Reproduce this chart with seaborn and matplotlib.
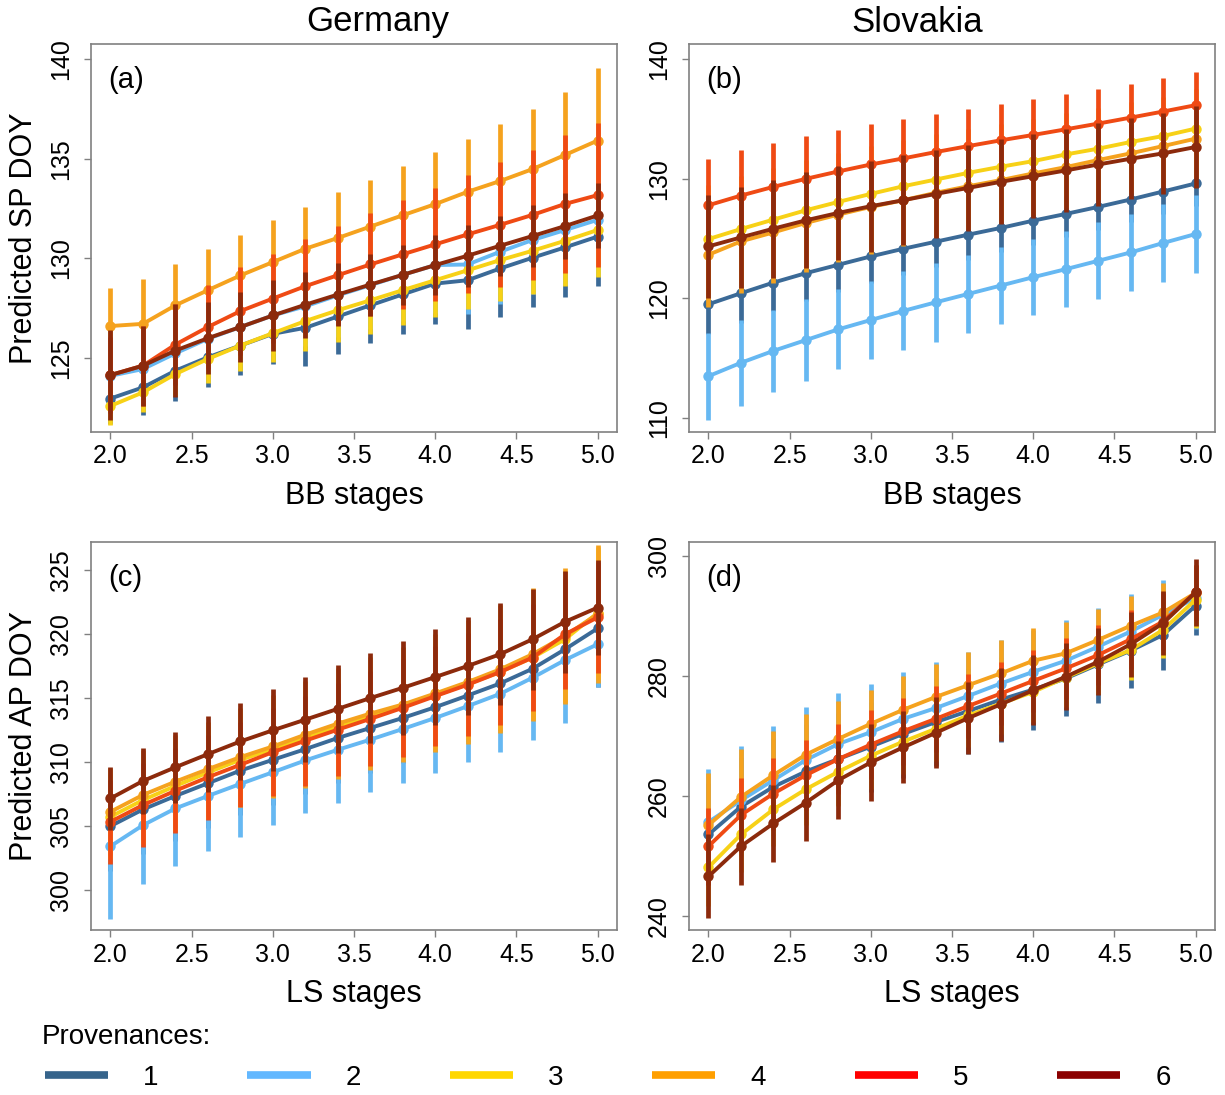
import numpy as np
import pandas as pd
import seaborn as sns
import matplotlib.pyplot as plt
from matplotlib.lines import Line2D

STAGES = [2.0, 2.2, 2.4, 2.6, 2.8, 3.0, 3.2, 3.4, 3.6, 3.8, 4.0, 4.2, 4.4, 4.6, 4.8, 5.0]
PROVENANCES = ["1", "2", "3", "4", "5", "6"]
LINE_COLORS = ["#3B6A97", "#66B8F2", "#F7D117", "#F5A21E", "#EF4A14", "#8C2A0C"]
LEGEND_COLORS = ["#36648B", "#63B8FF", "#FFD700", "#FF9F00", "#FF0000", "#8B0000"]

# (a) Germany, SP DOY vs BB stages
A_MEAN = [
    [122.96, 123.52, 124.36, 125.03, 125.62, 126.21, 126.51, 127.08, 127.64, 128.19, 128.73, 128.90, 129.49, 130.03, 130.55, 131.09],
    [124.10, 124.44, 125.23, 125.96, 126.55, 127.13, 127.59, 128.14, 128.65, 129.17, 129.66, 129.69, 130.33, 130.92, 131.42, 131.93],
    [122.59, 123.27, 124.19, 124.95, 125.62, 126.24, 126.85, 127.39, 127.89, 128.40, 128.90, 129.40, 129.91, 130.38, 130.88, 131.42],
    [126.60, 126.71, 127.64, 128.40, 129.14, 129.81, 130.48, 131.02, 131.59, 132.16, 132.72, 133.34, 133.88, 134.48, 135.19, 135.91],
    [124.14, 124.61, 125.67, 126.55, 127.35, 127.98, 128.60, 129.15, 129.69, 130.20, 130.70, 131.20, 131.68, 132.18, 132.73, 133.17],
    [124.14, 124.61, 125.37, 125.99, 126.55, 127.13, 127.67, 128.18, 128.68, 129.17, 129.66, 130.13, 130.63, 131.12, 131.62, 132.15],
]
A_ERR = [
    [1.30, 1.40, 1.50, 1.50, 1.50, 1.50, 1.90, 1.90, 1.90, 2.00, 2.05, 2.45, 2.45, 2.45, 2.50, 2.50],
    [1.50, 1.50, 1.60, 1.70, 1.80, 1.90, 2.00, 2.10, 2.20, 2.30, 2.40, 2.50, 2.60, 2.70, 2.75, 2.80],
    [0.95, 1.00, 1.10, 1.20, 1.30, 1.45, 1.50, 1.60, 1.70, 1.75, 1.85, 1.95, 2.05, 2.15, 2.25, 2.35],
    [1.92, 2.24, 2.07, 2.09, 2.05, 2.12, 2.12, 2.29, 2.35, 2.46, 2.61, 2.67, 2.86, 3.04, 3.18, 3.67],
    [1.90, 2.00, 2.05, 2.10, 2.20, 2.25, 2.35, 2.49, 2.61, 2.74, 2.83, 2.96, 3.14, 3.28, 3.48, 3.63],
    [2.24, 2.00, 2.35, 1.80, 1.77, 1.77, 1.65, 1.56, 1.56, 1.50, 1.50, 1.55, 1.50, 1.56, 1.65, 1.63],
]

# (b) Slovakia, SP DOY vs BB stages
B_MEAN = [
    [119.49, 120.41, 121.30, 122.09, 122.79, 123.49, 124.13, 124.72, 125.31, 125.87, 126.48, 127.04, 127.63, 128.25, 128.92, 129.59],
    [113.47, 114.59, 115.59, 116.49, 117.39, 118.17, 118.93, 119.65, 120.35, 121.05, 121.75, 122.42, 123.12, 123.82, 124.61, 125.36],
    [124.94, 125.78, 126.57, 127.35, 128.05, 128.72, 129.36, 129.92, 130.48, 130.99, 131.46, 132.02, 132.50, 133.06, 133.56, 134.18],
    [123.63, 124.75, 125.50, 126.29, 126.99, 127.63, 128.19, 128.81, 129.36, 129.87, 130.43, 130.96, 131.55, 132.11, 132.72, 133.34],
    [127.77, 128.58, 129.31, 129.98, 130.60, 131.18, 131.69, 132.22, 132.72, 133.20, 133.65, 134.12, 134.60, 135.10, 135.61, 136.14],
    [124.33, 125.08, 125.81, 126.51, 127.13, 127.69, 128.19, 128.72, 129.22, 129.73, 130.20, 130.68, 131.18, 131.66, 132.11, 132.64],
]
B_ERR = [
    [2.50, 2.45, 2.40, 2.35, 2.30, 2.25, 2.20, 2.15, 2.10, 2.05, 2.00, 1.95, 1.90, 1.90, 1.90, 1.90],
    [3.64, 3.60, 3.44, 3.40, 3.35, 3.30, 3.30, 3.28, 3.25, 3.22, 3.20, 3.20, 3.22, 3.25, 3.27, 3.27],
    [4.50, 4.40, 4.30, 4.20, 4.10, 4.00, 3.90, 3.80, 3.70, 3.60, 3.50, 3.45, 3.40, 3.35, 3.30, 3.30],
    [4.40, 4.30, 4.20, 4.10, 4.00, 3.90, 3.80, 3.70, 3.60, 3.50, 3.45, 3.40, 3.35, 3.30, 3.30, 3.30],
    [3.89, 3.78, 3.69, 3.58, 3.44, 3.36, 3.27, 3.16, 3.08, 3.02, 2.99, 2.94, 2.88, 2.80, 2.77, 2.74],
    [4.30, 4.20, 4.10, 4.00, 3.90, 3.80, 3.75, 3.70, 3.60, 3.55, 3.50, 3.45, 3.45, 3.40, 3.40, 3.40],
]

# (c) Germany, AP DOY vs LS stages
C_MEAN = [
    [305.02, 306.32, 307.37, 308.36, 309.35, 310.19, 311.02, 311.89, 312.67, 313.45, 314.29, 315.20, 316.14, 317.29, 318.81, 320.43],
    [303.45, 305.09, 306.40, 307.37, 308.31, 309.22, 310.14, 310.97, 311.76, 312.59, 313.45, 314.37, 315.33, 316.59, 317.97, 319.20],
    [305.75, 307.05, 308.15, 309.20, 310.19, 311.02, 311.89, 312.75, 313.58, 314.37, 315.20, 316.09, 317.03, 318.16, 319.59, 321.63],
    [306.14, 307.45, 308.49, 309.46, 310.40, 311.23, 312.15, 313.01, 313.79, 314.50, 315.36, 316.25, 317.24, 318.42, 319.85, 321.55],
    [305.36, 306.66, 307.78, 308.83, 309.80, 310.79, 311.68, 312.54, 313.38, 314.24, 315.15, 316.04, 317.03, 318.16, 319.98, 321.29],
    [307.18, 308.54, 309.61, 310.63, 311.62, 312.49, 313.32, 314.16, 315.00, 315.80, 316.64, 317.50, 318.42, 319.59, 320.95, 322.05],
]
C_ERR = [
    [3.50, 3.50, 3.50, 3.50, 3.50, 3.50, 3.50, 3.50, 3.50, 3.50, 3.50, 3.60, 3.70, 3.80, 4.00, 4.60],
    [5.67, 4.62, 4.52, 4.28, 4.13, 4.13, 4.13, 4.13, 4.10, 4.18, 4.26, 4.39, 4.55, 4.83, 4.91, 3.30],
    [3.30, 3.40, 3.50, 3.60, 3.65, 3.70, 3.75, 3.80, 3.90, 4.00, 4.10, 4.30, 4.50, 4.80, 4.90, 5.15],
    [3.40, 3.50, 3.60, 3.70, 3.80, 4.00, 4.18, 4.30, 4.40, 4.50, 4.60, 4.80, 5.00, 5.20, 5.30, 5.40],
    [3.27, 3.30, 3.30, 3.30, 3.30, 3.42, 3.50, 3.60, 3.70, 3.80, 3.90, 4.00, 4.10, 4.20, 4.30, 4.30],
    [2.48, 2.56, 2.77, 2.95, 3.00, 3.19, 3.34, 3.42, 3.50, 3.66, 3.74, 3.84, 3.97, 3.92, 3.97, 3.68],
]

# (d) Slovakia, AP DOY vs LS stages
D_MEAN = [
    [253.58, 258.22, 261.52, 264.09, 266.16, 268.23, 270.36, 272.32, 274.16, 276.06, 277.74, 279.59, 281.94, 284.23, 286.86, 291.72],
    [255.65, 259.28, 262.64, 266.00, 268.68, 270.64, 272.87, 274.66, 276.68, 278.75, 280.70, 282.55, 284.90, 287.42, 290.21, 293.01],
    [248.10, 253.58, 257.77, 261.13, 264.04, 266.72, 269.07, 271.20, 273.43, 275.39, 277.35, 279.75, 282.10, 284.34, 287.70, 292.73],
    [255.15, 259.84, 263.48, 266.89, 269.52, 272.04, 274.38, 276.51, 278.47, 280.43, 282.55, 283.78, 286.02, 288.37, 290.60, 293.85],
    [251.62, 256.82, 260.40, 263.48, 266.16, 268.57, 270.81, 272.87, 275.00, 277.07, 279.19, 281.26, 283.50, 286.13, 289.09, 293.96],
    [246.59, 251.62, 255.43, 258.89, 262.64, 265.60, 268.12, 270.53, 272.99, 275.28, 277.63, 279.87, 282.38, 285.29, 288.81, 293.96],
]
D_ERR = [
    [8.50, 8.30, 8.10, 7.90, 7.70, 7.50, 7.40, 7.30, 7.20, 7.10, 6.70, 6.30, 6.40, 6.30, 5.90, 4.90],
    [8.90, 9.00, 9.10, 8.80, 8.50, 8.10, 7.80, 7.60, 7.40, 7.20, 7.00, 6.80, 6.50, 6.20, 5.80, 5.20],
    [6.50, 6.30, 6.10, 5.90, 5.70, 5.50, 5.40, 5.30, 5.20, 5.10, 5.00, 4.90, 5.10, 5.00, 4.75, 4.75],
    [8.60, 8.00, 7.30, 6.80, 6.30, 5.70, 5.60, 5.50, 5.50, 5.50, 5.50, 5.30, 5.20, 5.00, 4.90, 4.60],
    [6.40, 6.20, 6.00, 5.90, 5.80, 5.70, 5.60, 5.50, 5.40, 5.30, 5.20, 5.10, 5.00, 4.90, 4.80, 4.60],
    [6.99, 6.43, 6.43, 6.32, 6.54, 6.43, 6.04, 5.93, 5.98, 6.04, 5.87, 5.59, 5.59, 5.40, 5.30, 5.60],
]

PANELS = [
    ("(a)", A_MEAN, A_ERR, [125, 130, 135, 140], (121.28, 140.76), "BB stages", "Predicted SP DOY"),
    ("(b)", B_MEAN, B_ERR, [110, 120, 130, 140], (108.8, 141.26), "BB stages", None),
    ("(c)", C_MEAN, C_ERR, [300, 305, 310, 315, 320, 325], (296.92, 327.17), "LS stages", "Predicted AP DOY"),
    ("(d)", D_MEAN, D_ERR, [240, 260, 280, 300], (237.65, 302.35), "LS stages", None),
]

W, H = 1225, 1095
AX_RECTS = [
    (91, 44, 526, 388),
    (689, 44, 526, 388),
    (91, 542, 526, 388),
    (689, 542, 526, 388),
]


def to_frame(means, errs):
    rows = []
    for prov, m, e in zip(PROVENANCES, means, errs):
        for x, y, h in zip(STAGES, m, e):
            rows.append((prov, x, y, y - h, y + h))
    return pd.DataFrame(rows, columns=["provenance", "stage", "doy", "lo", "hi"])


def main():
    sns.set_theme(style="white")
    plt.rcParams["font.family"] = ["Liberation Sans", "DejaVu Sans"]
    plt.rcParams["text.color"] = "black"
    plt.rcParams["axes.labelcolor"] = "black"

    fig = plt.figure(figsize=(W / 100, H / 100), dpi=100)
    frame_col = "#808080"

    for (tag, means, errs, yticks, ylim, xlabel, ylabel), (l, t, w, h) in zip(PANELS, AX_RECTS):
        ax = fig.add_axes([l / W, 1 - (t + h) / H, w / W, h / H])
        df = to_frame(means, errs)

        for i, (prov, color) in enumerate(zip(PROVENANCES, LINE_COLORS)):
            sub = df[df["provenance"] == prov]
            ax.vlines(sub["stage"], sub["lo"], sub["hi"], color=color, lw=3.4,
                      capstyle="butt", zorder=2 + 2 * i)
            sns.lineplot(data=sub, x="stage", y="doy", ax=ax, color=color, lw=2.8,
                         marker="o", markersize=7.5, markeredgewidth=0, zorder=3 + 2 * i)

        ax.set_xlim(1.88, 5.12)
        ax.set_ylim(*ylim)
        ax.set_xticks([2.0, 2.5, 3.0, 3.5, 4.0, 4.5, 5.0])
        ax.set_xticklabels([f"{v:.1f}" for v in [2.0, 2.5, 3.0, 3.5, 4.0, 4.5, 5.0]], fontsize=18)
        ax.set_yticks(yticks)
        ax.set_yticklabels([str(v) for v in yticks], fontsize=18, rotation=90, va="center")
        ax.tick_params(axis="both", direction="out", length=5, width=1, color=frame_col,
                       labelcolor="black", bottom=True, left=True)
        ax.tick_params(axis="x", pad=4)
        ax.tick_params(axis="y", pad=8)
        for sp in ax.spines.values():
            sp.set_color(frame_col)
            sp.set_linewidth(1.2)

        ax.set_xlabel(xlabel, fontsize=22, labelpad=9, color="black")
        if ylabel:
            ax.set_ylabel(ylabel, fontsize=22, labelpad=7, color="black")
        else:
            ax.set_ylabel("")
        ax.text(0.032, 0.907, tag, transform=ax.transAxes, fontsize=21, ha="left", va="center",
                color="black")

    fig.text(378 / W, 1 - 22 / H, "Germany", fontsize=25, ha="center", va="center", color="black")
    fig.text(917 / W, 1 - 22 / H, "Slovakia", fontsize=25, ha="center", va="center", color="black")

    fig.text(42 / W, 1 - 1037 / H, "Provenances:", fontsize=20, ha="left", va="center", color="black")
    handles = [Line2D([0], [0], color=c, lw=5.5, solid_capstyle="butt") for c in LEGEND_COLORS]
    leg = fig.legend(handles, PROVENANCES, loc="center left", bbox_to_anchor=(45 / W, 1 - 1078 / H),
                     ncol=6, frameon=False, fontsize=20, handlelength=2.27, handletextpad=1.26,
                     columnspacing=3.2, borderpad=0, borderaxespad=0)
    for txt in leg.get_texts():
        txt.set_color("black")

    fig.savefig("out.png", dpi=100)


if __name__ == "__main__":
    main()
